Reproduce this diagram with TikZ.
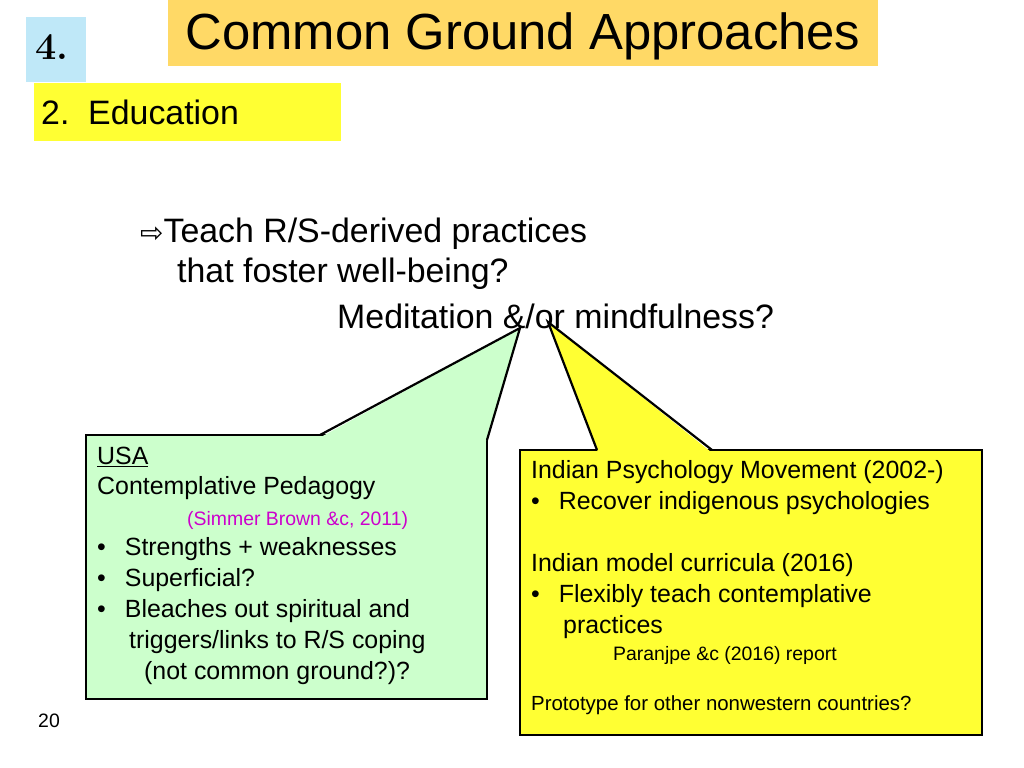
\documentclass[tikz,border=0pt]{standalone}
\usepackage{fontspec}
\setmainfont{Liberation Sans}
\newfontfamily\symfont{DejaVu Sans}
\newfontfamily\numfont{Latin Modern Roman}
\definecolor{titleorange}{HTML}{FFD966}
\definecolor{edyellow}{HTML}{FFFF33}
\definecolor{numblue}{HTML}{BFE8F8}
\definecolor{boxgreen}{HTML}{CCFFCC}
\definecolor{refpink}{HTML}{CC00CC}
\newcommand{\bul}{\textbullet\hspace{19bp}}
\tikzset{
  txt/.style={anchor=west,inner sep=0pt,font=\fontsize{25}{30}\selectfont},
  big/.style={anchor=west,inner sep=0pt,font=\fontsize{34}{40}\selectfont},
  small/.style={anchor=west,inner sep=0pt,font=\fontsize{19.5}{23}\selectfont},
  callout/.style={draw=black,line width=2.2bp}
}
\begin{document}
\begin{tikzpicture}[x=1bp,y=-1bp]
\useasboundingbox (0,0) rectangle (1024,768);
% header boxes
\fill[numblue] (26,17) rectangle (86,82);
\node (num) at (52,47) {\fontsize{38}{38}\selectfont\numfont\bfseries 4.};
\fill[titleorange] (168,0) rectangle (878,66);
\node (title) at (523,36) {\fontsize{51}{56}\selectfont Common Ground Approaches};
\fill[edyellow] (34,83) rectangle (341,141);
\node[big] (edu) at (41,112) {2.\ \ Education};
% question
\node[big] (q1) at (140,234) {{\symfont\fontsize{28}{28}\selectfont ⇨}Teach R/S-derived practices};
\node[big] (q2) at (177,274) {that foster well-being?};
\node[big] (q3) at (337,316) {Meditation \&/or mindfulness?};

% green callout
\fill[boxgreen] (86,435) rectangle (487,699);
\draw[callout] (86,435) rectangle (487,699);
\fill[boxgreen] (321,437) -- (520,328) -- (485,444) -- (485,437) -- cycle;
\draw[callout] (320,435) -- (520,328) -- (487,440);
\node[txt] (usa) at (97,457) {\underline{USA}};
\node[txt] (cp) at (97,488) {Contemplative Pedagogy};
\node[small,text=refpink] (sb) at (187,520) {(Simmer Brown \&c, 2011)};
\node[txt] (g1) at (97,549) {\bul Strengths + weaknesses};
\node[txt] (g2) at (97,580) {\bul Superficial?};
\node[txt] (g3) at (97,611) {\bul Bleaches out spiritual and};
\node[txt] (g4) at (129,642) {triggers/links to R/S coping};
\node[txt] (g5) at (144,673) {(not common ground?)?};

% yellow callout
\fill[edyellow] (520,450) rectangle (982,735);
\draw[callout] (520,450) rectangle (982,735);
\fill[edyellow] (598,452) -- (548,322) -- (711,452) -- cycle;
\draw[callout] (597,450) -- (548,322) -- (712,450);
\node[txt] (ipm) at (531,472) {Indian Psychology Movement (2002-)};
\node[txt] (y1) at (531,503) {\bul Recover indigenous psychologies};
\node[txt] (imc) at (531,565) {Indian model curricula (2016)};
\node[txt] (y2) at (531,596) {\bul Flexibly teach contemplative};
\node[txt] (y3) at (563,627) {practices};
\node[small] (par) at (613,655) {Paranjpe \&c (2016) report};
\node[small,font=\fontsize{20.5}{24}\selectfont] (proto) at (531,705) {Prototype for other nonwestern countries?};

\node[small] (page) at (38,721) {20};
\end{tikzpicture}
\end{document}
